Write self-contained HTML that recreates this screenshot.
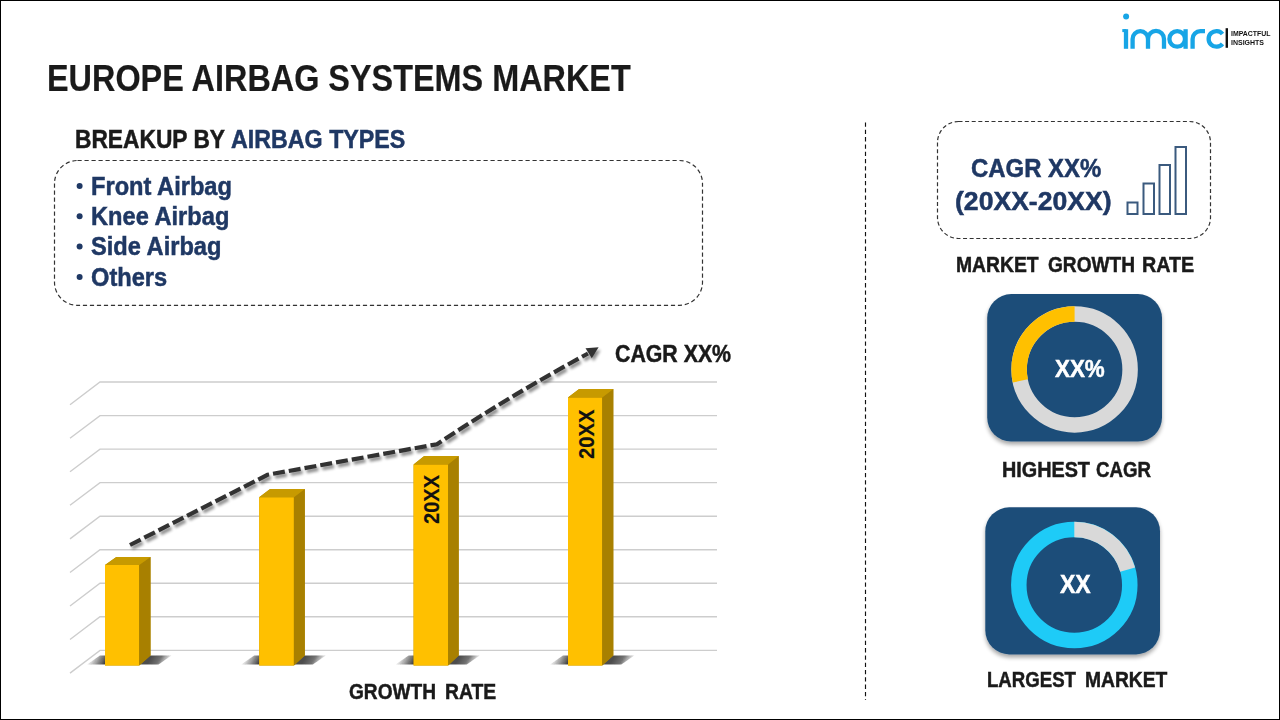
<!DOCTYPE html>
<html>
<head>
<meta charset="utf-8">
<style>
*{margin:0;padding:0;box-sizing:border-box}
html,body{width:1280px;height:720px;overflow:hidden;background:#fff}
body{position:relative;font-family:"Liberation Sans",sans-serif;font-weight:bold}
.frame{position:absolute;left:0;top:0;width:1280px;height:720px;border:1px solid #000}
.t{position:absolute;white-space:nowrap;line-height:1;transform-origin:0 0}
svg{position:absolute;left:0;top:0}
</style>
</head>
<body>
<svg width="1280" height="720" viewBox="0 0 1280 720">
<defs>
<filter id="lsh" x="-10%" y="-30%" width="120%" height="160%">
<feGaussianBlur in="SourceAlpha" stdDeviation="1.6"/>
<feOffset dx="2" dy="3" result="b"/>
<feComponentTransfer><feFuncA type="linear" slope="0.45"/></feComponentTransfer>
<feMerge><feMergeNode/><feMergeNode in="SourceGraphic"/></feMerge>
</filter>
<filter id="blur1" x="-20%" y="-50%" width="140%" height="200%"><feGaussianBlur stdDeviation="0.5"/></filter>
<filter id="cardsh" x="-10%" y="-10%" width="120%" height="125%">
<feGaussianBlur in="SourceAlpha" stdDeviation="2"/>
<feOffset dx="0" dy="3"/>
<feComponentTransfer><feFuncA type="linear" slope="0.35"/></feComponentTransfer>
<feMerge><feMergeNode/><feMergeNode in="SourceGraphic"/></feMerge>
</filter>
<linearGradient id="sl0" gradientUnits="userSpaceOnUse" x1="91.0" y1="655.4" x2="105.0" y2="662.6">
<stop offset="0" stop-color="#222" stop-opacity="0"/>
<stop offset="1" stop-color="#222" stop-opacity="0.85"/>
</linearGradient>
<linearGradient id="sr0" gradientUnits="userSpaceOnUse" x1="152.5" y1="655.4" x2="167.5" y2="664.6">
<stop offset="0" stop-color="#222" stop-opacity="0.8"/>
<stop offset="0.45" stop-color="#222" stop-opacity="0.65"/>
<stop offset="1" stop-color="#222" stop-opacity="0"/>
</linearGradient>
<linearGradient id="sl1" gradientUnits="userSpaceOnUse" x1="245.2" y1="655.4" x2="259.2" y2="662.6">
<stop offset="0" stop-color="#222" stop-opacity="0"/>
<stop offset="1" stop-color="#222" stop-opacity="0.85"/>
</linearGradient>
<linearGradient id="sr1" gradientUnits="userSpaceOnUse" x1="306.8" y1="655.4" x2="321.8" y2="664.6">
<stop offset="0" stop-color="#222" stop-opacity="0.8"/>
<stop offset="0.45" stop-color="#222" stop-opacity="0.65"/>
<stop offset="1" stop-color="#222" stop-opacity="0"/>
</linearGradient>
<linearGradient id="sl2" gradientUnits="userSpaceOnUse" x1="399.6" y1="655.4" x2="413.6" y2="662.6">
<stop offset="0" stop-color="#222" stop-opacity="0"/>
<stop offset="1" stop-color="#222" stop-opacity="0.85"/>
</linearGradient>
<linearGradient id="sr2" gradientUnits="userSpaceOnUse" x1="460.7" y1="655.4" x2="475.7" y2="664.6">
<stop offset="0" stop-color="#222" stop-opacity="0.8"/>
<stop offset="0.45" stop-color="#222" stop-opacity="0.65"/>
<stop offset="1" stop-color="#222" stop-opacity="0"/>
</linearGradient>
<linearGradient id="sl3" gradientUnits="userSpaceOnUse" x1="554.0" y1="655.4" x2="568.0" y2="662.6">
<stop offset="0" stop-color="#222" stop-opacity="0"/>
<stop offset="1" stop-color="#222" stop-opacity="0.85"/>
</linearGradient>
<linearGradient id="sr3" gradientUnits="userSpaceOnUse" x1="615.3" y1="655.4" x2="630.3" y2="664.6">
<stop offset="0" stop-color="#222" stop-opacity="0.8"/>
<stop offset="0.45" stop-color="#222" stop-opacity="0.65"/>
<stop offset="1" stop-color="#222" stop-opacity="0"/>
</linearGradient>
</defs>
<rect x="54.5" y="160.5" width="648" height="144.8" rx="23" ry="23" fill="none" stroke="#333" stroke-width="1.2" stroke-dasharray="4.2 2.8"/>
<rect x="937.5" y="121.5" width="273" height="117" rx="21" ry="21" fill="none" stroke="#333" stroke-width="1.2" stroke-dasharray="4 2.6"/>
<line x1="865.5" y1="122.5" x2="865.5" y2="700" stroke="#111" stroke-width="1.15" stroke-dasharray="4.3 3"/>
<g stroke="#cdcdcd" stroke-width="1.4" fill="none">
<path d="M70,404.7 L100,382.0 H717"/>
<path d="M70,438.2 L100,415.6 H717"/>
<path d="M70,471.8 L100,449.1 H717"/>
<path d="M70,505.3 L100,482.6 H717"/>
<path d="M70,538.9 L100,516.2 H717"/>
<path d="M70,572.5 L100,549.8 H717"/>
<path d="M70,606.0 L100,583.3 H717"/>
<path d="M70,639.5 L100,616.8 H717"/>
<path d="M70,673.1 L100,650.4 H717"/>
</g>
<polygon points="87.0,664.6 100.0,655.4 106.0,655.4 106.0,664.6" fill="url(#sl0)" filter="url(#blur1)"/>
<polygon points="138.2,664.6 149.5,655.4 171.5,655.4 158.5,664.6" fill="url(#sr0)" filter="url(#blur1)"/>
<polygon points="105.0,565.0 116.30000000000001,557.0 150.5,557.0 150.5,655.4 139.2,665.4 105.0,665.4" fill="#b48a00"/>
<polygon points="105.0,565.0 139.2,565.0 139.2,665.4 105.0,665.4" fill="#ffc000"/>
<polygon points="139.2,565.0 150.5,557.0 150.5,655.4 139.2,665.4" fill="#a88000"/>
<polygon points="105.0,565.0 116.30000000000001,557.0 150.5,557.0 139.2,565.0" fill="#c79a00"/>
<polygon points="241.2,664.6 254.2,655.4 260.2,655.4 260.2,664.6" fill="url(#sl1)" filter="url(#blur1)"/>
<polygon points="292.9,664.6 303.8,655.4 325.8,655.4 312.8,664.6" fill="url(#sr1)" filter="url(#blur1)"/>
<polygon points="259.2,497.3 270.1,488.9 304.8,488.9 304.8,655.4 293.9,665.4 259.2,665.4" fill="#b48a00"/>
<polygon points="259.2,497.3 293.9,497.3 293.9,665.4 259.2,665.4" fill="#ffc000"/>
<polygon points="293.9,497.3 304.8,488.9 304.8,655.4 293.9,665.4" fill="#a88000"/>
<polygon points="259.2,497.3 270.1,488.9 304.8,488.9 293.9,497.3" fill="#c79a00"/>
<polygon points="395.6,664.6 408.6,655.4 414.6,655.4 414.6,664.6" fill="url(#sl2)" filter="url(#blur1)"/>
<polygon points="447.1,664.6 457.7,655.4 479.7,655.4 466.7,664.6" fill="url(#sr2)" filter="url(#blur1)"/>
<polygon points="413.6,464.4 424.2,456.0 458.7,456.0 458.7,655.4 448.1,665.4 413.6,665.4" fill="#b48a00"/>
<polygon points="413.6,464.4 448.1,464.4 448.1,665.4 413.6,665.4" fill="#ffc000"/>
<polygon points="448.1,464.4 458.7,456.0 458.7,655.4 448.1,665.4" fill="#a88000"/>
<polygon points="413.6,464.4 424.2,456.0 458.7,456.0 448.1,464.4" fill="#c79a00"/>
<polygon points="550.0,664.6 563.0,655.4 569.0,655.4 569.0,664.6" fill="url(#sl3)" filter="url(#blur1)"/>
<polygon points="601.2,664.6 612.3,655.4 634.3,655.4 621.3,664.6" fill="url(#sr3)" filter="url(#blur1)"/>
<polygon points="568.0,397.5 579.0999999999999,388.9 613.3,388.9 613.3,655.4 602.2,665.4 568.0,665.4" fill="#b48a00"/>
<polygon points="568.0,397.5 602.2,397.5 602.2,665.4 568.0,665.4" fill="#ffc000"/>
<polygon points="602.2,397.5 613.3,388.9 613.3,655.4 602.2,665.4" fill="#a88000"/>
<polygon points="568.0,397.5 579.0999999999999,388.9 613.3,388.9 602.2,397.5" fill="#c79a00"/>
<g filter="url(#lsh)">
<path d="M130,545 L267.5,474.8 L437,444.2 Q510.5,395.5 588,353.5" fill="none" stroke="#333" stroke-width="4.2" stroke-dasharray="12 4"/>
<polygon points="585.5,348.3 598.6,347.2 591.8,358.2" fill="#333"/>
</g>
<g fill="none" stroke="#3b5a7e" stroke-width="2">
<rect x="1127.5" y="202.5" width="10" height="11.5"/>
<rect x="1143.5" y="183.5" width="10.5" height="30.5"/>
<rect x="1159.5" y="165" width="10.5" height="49"/>
<rect x="1175.5" y="147" width="10.5" height="67"/>
</g>
<g filter="url(#cardsh)">
<rect x="987.2" y="294.1" width="174.8" height="147.5" rx="24" fill="#1f4e79"/>
<rect x="985.3" y="507.3" width="174.7" height="147.1" rx="24" fill="#1f4e79"/>
</g>
<circle cx="1074.6" cy="369.4" r="55.5" fill="none" stroke="#d9d9d9" stroke-width="15.5"/>
<path d="M1020.31,380.94 A55.5,55.5 0 0 1 1074.60,313.90" fill="none" stroke="#ffc000" stroke-width="15.5"/>
<circle cx="1074.3" cy="585" r="55.5" fill="none" stroke="#1ecbf7" stroke-width="15.5"/>
<path d="M1074.30,529.50 A55.5,55.5 0 0 1 1127.65,569.70" fill="none" stroke="#d9d9d9" stroke-width="15.5"/>
<g fill="none" stroke="#17a5e6" stroke-width="4.3">
<path d="M1126,48.8 V29.2"/>
<path d="M1132.6,48.8 V38.9 A7.7,7.7 0 0 1 1148,38.9 V48.8 M1148,38.9 A8,8 0 0 1 1164,38.9 V48.8"/>
<circle cx="1177.2" cy="38.9" r="7.8"/>
<path d="M1185.6,29.2 V48.8"/>
<path d="M1192.6,48.8 V38.9 A7.7,7.7 0 0 1 1200.3,31.2 H1205"/>
<path d="M1222.5,34 A7.8,7.8 0 1 0 1222.5,43.8"/>
</g>
<rect x="1122.3" y="29.1" width="4" height="3" fill="#17a5e6"/>
<circle cx="1126.1" cy="16.6" r="3" fill="#17a5e6"/>
<rect x="1225.6" y="28.2" width="2.4" height="19.6" fill="#111"/>
<circle cx="79.6" cy="185.90" r="3.0" fill="#1f3864"/>
<circle cx="79.6" cy="216.23" r="3.0" fill="#1f3864"/>
<circle cx="79.6" cy="246.56" r="3.0" fill="#1f3864"/>
<circle cx="79.6" cy="276.89" r="3.0" fill="#1f3864"/>
</svg>
<div class="t" style="left:47.49px;top:60.97px;font-size:36.364px;color:#1a1a1a;transform:scaleX(0.89093);-webkit-text-stroke:0.2px #1a1a1a">EUROPE AIRBAG SYSTEMS MARKET</div>
<div class="t" style="left:74.735px;top:126.89px;font-size:25.164px;color:#1a1a1a;transform:scaleX(0.90441);-webkit-text-stroke:0.5px #1a1a1a">BREAKUP BY</div>
<div class="t" style="left:231.498px;top:126.89px;font-size:25.164px;color:#1f3864;transform:scaleX(0.92402);-webkit-text-stroke:0.5px #1f3864">AIRBAG TYPES</div>
<div class="t" style="left:90.8px;top:173.77px;font-size:25.6px;color:#1f3864;transform:scaleX(0.9234);-webkit-text-stroke:0.5px #1f3864">Front Airbag</div>
<div class="t" style="left:90.8px;top:204.10px;font-size:25.6px;color:#1f3864;transform:scaleX(0.9234);-webkit-text-stroke:0.5px #1f3864">Knee Airbag</div>
<div class="t" style="left:90.8px;top:234.43px;font-size:25.6px;color:#1f3864;transform:scaleX(0.9234);-webkit-text-stroke:0.5px #1f3864">Side Airbag</div>
<div class="t" style="left:90.8px;top:264.76px;font-size:25.6px;color:#1f3864;transform:scaleX(0.9234);-webkit-text-stroke:0.5px #1f3864">Others</div>
<div class="t" style="left:615.169px;top:341.74px;font-size:23.855px;color:#1a1a1a;transform:scaleX(0.89379);-webkit-text-stroke:0.5px #1a1a1a">CAGR XX%</div>
<div class="t" style="left:349.078px;top:680.54px;font-size:21.673px;color:#1a1a1a;transform:scaleX(0.88153);-webkit-text-stroke:0.5px #1a1a1a">GROWTH</div>
<div class="t" style="left:444.851px;top:680.54px;font-size:21.673px;color:#1a1a1a;transform:scaleX(0.89295);-webkit-text-stroke:0.5px #1a1a1a">RATE</div>
<div class="t" style="left:970.784px;top:156.02px;font-size:25.891px;color:#1f3864;transform:scaleX(0.92479);-webkit-text-stroke:0.5px #1f3864">CAGR XX%</div>
<div class="t" style="left:955.478px;top:189.17px;font-size:25.6px;color:#1f3864;transform:scaleX(1.0384);-webkit-text-stroke:0.5px #1f3864">(20XX-20XX)</div>
<div class="t" style="left:956.027px;top:253.74px;font-size:21.673px;color:#1a1a1a;transform:scaleX(0.89235);-webkit-text-stroke:0.5px #1a1a1a">MARKET</div>
<div class="t" style="left:1047.678px;top:253.74px;font-size:21.673px;color:#1a1a1a;transform:scaleX(0.88153);-webkit-text-stroke:0.5px #1a1a1a">GROWTH</div>
<div class="t" style="left:1141.58px;top:253.74px;font-size:21.673px;color:#1a1a1a;transform:scaleX(0.91045);-webkit-text-stroke:0.5px #1a1a1a">RATE</div>
<div class="t" style="left:1002.012px;top:458.86px;font-size:21.236px;color:#1a1a1a;transform:scaleX(0.93217);-webkit-text-stroke:0.5px #1a1a1a">HIGHEST</div>
<div class="t" style="left:1096.11px;top:458.86px;font-size:21.236px;color:#1a1a1a;transform:scaleX(0.87847);-webkit-text-stroke:0.5px #1a1a1a">CAGR</div>
<div class="t" style="left:987.267px;top:669.91px;font-size:21.527px;color:#1a1a1a;transform:scaleX(0.86522);-webkit-text-stroke:0.5px #1a1a1a">LARGEST</div>
<div class="t" style="left:1084.931px;top:669.91px;font-size:21.527px;color:#1a1a1a;transform:scaleX(0.89511);-webkit-text-stroke:0.5px #1a1a1a">MARKET</div>
<div class="t" style="left:1054.969px;top:357.08px;font-size:24.582px;color:#fff;transform:scaleX(0.91115);-webkit-text-stroke:0.5px #fff">XX%</div>
<div class="t" style="left:1059.961px;top:572.43px;font-size:24.873px;color:#fff;transform:scaleX(0.92588);-webkit-text-stroke:0.5px #fff">XX</div>
<div class="t" style="left:420.559px;top:523.98px;font-size:21.964px;color:#111;transform:rotate(-90deg) scaleX(0.91506);-webkit-text-stroke:0.15px #111">20XX</div>
<div class="t" style="left:575.559px;top:458.98px;font-size:21.964px;color:#111;transform:rotate(-90deg) scaleX(0.92332);-webkit-text-stroke:0.15px #111">20XX</div>
<div class="t" style="left:1231.212px;top:29.71px;font-size:7.564px;color:#111;transform:scaleX(0.91972);-webkit-text-stroke:0px #111">IMPACTFUL</div>
<div class="t" style="left:1231.118px;top:38.56px;font-size:7.855px;color:#111;transform:scaleX(0.89155);-webkit-text-stroke:0px #111">INSIGHTS</div>
<div class="frame"></div>
</body>
</html>
